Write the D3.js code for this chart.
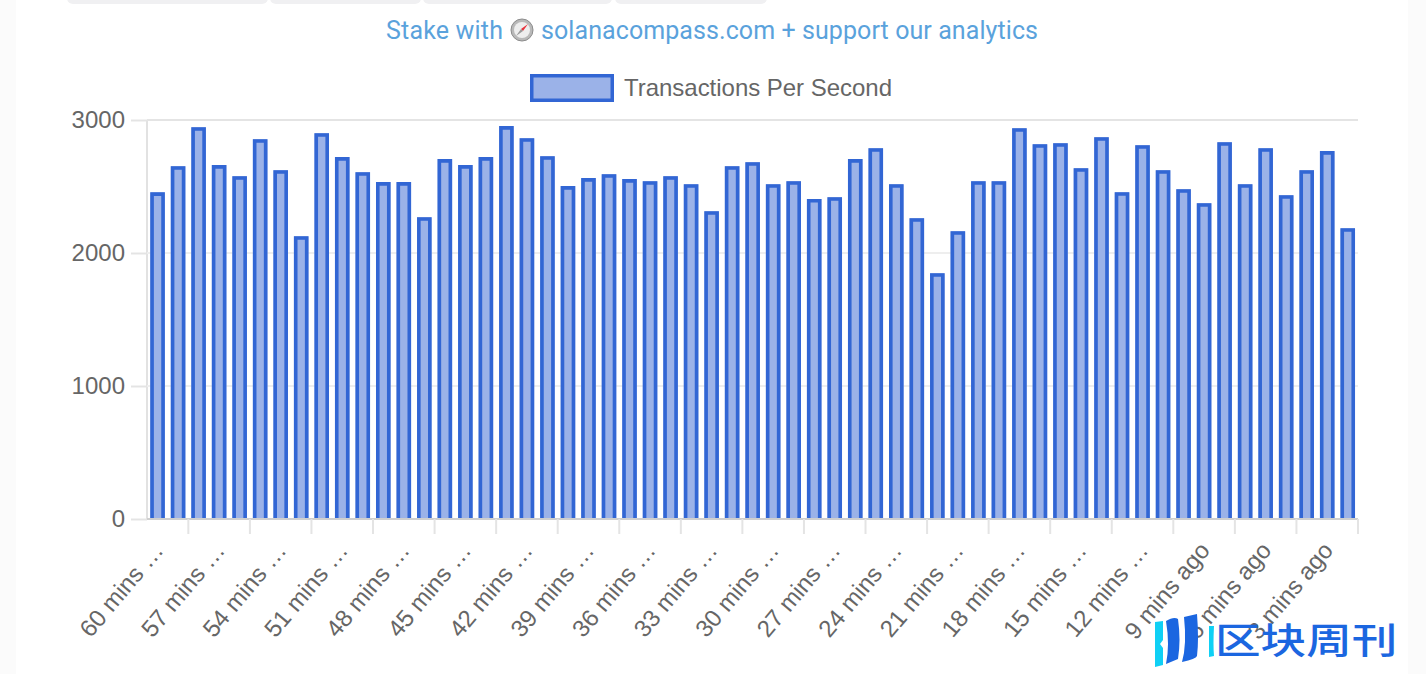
<!DOCTYPE html>
<html>
<head>
<meta charset="utf-8">
<script src="https://cdn.jsdelivr.net/npm/d3@7"></script>
<style>
html, body { margin: 0; padding: 0; background: #fbfbfb; overflow: hidden; }
svg { display: block; }
text { font-family: "Liberation Sans", Arial, sans-serif; }
</style>
</head>
<body>
<script>
var minsAgo = [60, 59, 58, 57, 56, 55, 54, 53, 52, 51, 50, 49, 48, 47, 46, 45, 44, 43, 42, 41,
    40, 39, 38, 37, 36, 35, 34, 33, 32, 31, 30, 29, 28, 27, 26, 25, 24, 23, 22, 21,
    20, 19, 18, 17, 16, 15, 14, 13, 12, 11, 10, 9, 8, 7, 6, 5, 4, 3, 2];

var tps = [2456, 2653, 2946, 2661, 2578, 2856, 2623, 2126, 2901, 2721, 2608, 2533, 2533, 2269, 2706, 2661, 2721, 2954, 2863, 2728,
    2503, 2563, 2593, 2556, 2540, 2578, 2517, 2314, 2653, 2683, 2517, 2540, 2406, 2420, 2706, 2788, 2517, 2262, 1848, 2164,
    2540, 2540, 2938, 2818, 2826, 2638, 2871, 2457, 2811, 2623, 2480, 2375, 2833, 2517, 2788, 2435, 2623, 2766, 2186];

var yTicks = [0, 1000, 2000, 3000];
var labelMins = [60, 57, 54, 51, 48, 45, 42, 39, 36, 33, 30, 27, 24, 21, 18, 15, 12, 9, 6, 3];
var tickLabels = ["60 mins …", "57 mins …", "54 mins …", "51 mins …", "48 mins …", "45 mins …", "42 mins …",
    "39 mins …", "36 mins …", "33 mins …", "30 mins …", "27 mins …", "24 mins …", "21 mins …", "18 mins …",
    "15 mins …", "12 mins …", "9 mins ago", "6 mins ago", "3 mins ago"];
var seriesName = "Transactions Per Second";

var blue = "#3266d4", lightBlue = "#9bb2e8", grey = "#666";

var svg = d3.select("body").append("svg").attr("width", 1426).attr("height", 674);

// page panel and the cut off tabs at the top
svg.append("rect").attr("x", 16).attr("y", 0).attr("width", 1392).attr("height", 674).attr("fill", "#fff");
[[67, 201], [270, 151], [423, 189], [615, 152]].forEach(function (t) {
    svg.append("rect").attr("x", t[0]).attr("y", -10).attr("width", t[1]).attr("height", 14)
        .attr("rx", 6).attr("fill", "#f0f0f2");
});

// stake link
var link = svg.append("g");
link.append("text").attr("x", 386).attr("y", 39).attr("font-size", 25).attr("fill", "#5aa2dc")
    .style("font-family", "Roboto, 'Liberation Sans', sans-serif").attr("textLength", 117).text("Stake with");
link.append("text").attr("x", 541).attr("y", 39).attr("font-size", 25).attr("fill", "#5aa2dc")
    .style("font-family", "Roboto, 'Liberation Sans', sans-serif").attr("textLength", 497).text("solanacompass.com + support our analytics");

var compass = link.append("g").attr("transform", "translate(522,30)");
compass.append("circle").attr("r", 11).attr("fill", "#b9b9b9").attr("stroke", "#8c8c8c");
compass.append("circle").attr("r", 8).attr("fill", "#eeeeee");
compass.append("path").attr("d", "M6,-6L-1,-1L1,1Z").attr("fill", "#e8323c");
compass.append("path").attr("d", "M-6,6L-1,-1L1,1Z").attr("fill", "#9a9a9a");

// legend
svg.append("rect").attr("x", 531.75).attr("y", 75.75).attr("width", 80.5).attr("height", 24.5)
    .attr("fill", lightBlue).attr("stroke", blue).attr("stroke-width", 3.5);
svg.append("text").attr("x", 624).attr("y", 96).attr("font-size", 24).attr("fill", grey)
    .attr("textLength", 268).text(seriesName);

// scales
var x = d3.scaleBand().domain(minsAgo).range([147.3, 1358]);
var y = d3.scaleLinear().domain([0, 3000]).range([519, 120]);
var barWidth = x.bandwidth() * 0.71;
var border = 3.6;

// y axis with grid lines
var yAxis = svg.append("g").attr("transform", "translate(147,0)")
    .call(d3.axisLeft(y).tickValues(yTicks).tickFormat(d3.format("d")).tickSize(16).tickPadding(6));
yAxis.select(".domain").attr("stroke", "#e2e2e2").attr("stroke-width", 2).attr("d", "M0,120V519");
yAxis.selectAll("line").attr("stroke", "#e4e4e4").attr("stroke-width", 2);
yAxis.selectAll("text").attr("font-size", 24).attr("fill", grey).style("font-family", "'Liberation Sans', Arial, sans-serif");

svg.append("g").selectAll("line").data(yTicks).join("line")
    .attr("x1", 147).attr("x2", 1358)
    .attr("y1", function (d) { return y(d); }).attr("y2", function (d) { return y(d); })
    .attr("stroke", function (d) { return d === 3000 ? "#e4e4e4" : d === 0 ? "#cfcfcf" : "#eeeeee"; })
    .attr("stroke-width", 2);

// bars, no border on the bottom side like chart.js
var bars = svg.append("g").selectAll("g").data(tps).join("g");
bars.append("rect")
    .attr("x", function (d, i) { return x(minsAgo[i]) + (x.bandwidth() - barWidth) / 2; })
    .attr("y", function (d) { return y(d); })
    .attr("width", barWidth)
    .attr("height", function (d) { return y(0) - y(d) - 1; })
    .attr("fill", lightBlue);
bars.append("path")
    .attr("d", function (d, i) {
        var l = x(minsAgo[i]) + (x.bandwidth() - barWidth) / 2 + border / 2;
        var r = l + barWidth - border;
        var t = y(d) + border / 2;
        return "M" + l + "," + (y(0) - 1) + "V" + t + "H" + r + "V" + (y(0) - 1);
    })
    .attr("fill", "none").attr("stroke", blue).attr("stroke-width", border);

// x ticks sit on the band edge two bars after each label
svg.append("g").selectAll("line").data(labelMins).join("line")
    .attr("x1", function (d) { return x(d - 1) + x.step(); })
    .attr("x2", function (d) { return x(d - 1) + x.step(); })
    .attr("y1", 519).attr("y2", 534)
    .attr("stroke", "#e4e4e4").attr("stroke-width", 2);

// x labels
svg.append("g").selectAll("text").data(labelMins).join("text")
    .attr("transform", function (d) {
        return "translate(" + (x(d) + x.bandwidth() / 2 + 7) + ",551) rotate(-50)";
    })
    .attr("text-anchor", "end")
    .attr("font-size", 24)
    .attr("fill", grey)
    .text(function (d, i) { return tickLabels[i]; });

// watermark
var mark = svg.append("g");
mark.append("path").attr("d", "M1155,622L1163,621V640L1160,644L1163,648V665L1155,667Z").attr("fill", "#0fd0f5");
mark.append("path").attr("d", "M1166,621Q1174,616 1178,619Q1181,640 1178,659L1166,664Q1170,645 1166,621Z").attr("fill", "#1b66e0");
mark.append("path").attr("d", "M1184,617L1197,614Q1199,640 1197,656Q1196,659 1182,662Q1187,645 1184,617Z").attr("fill", "#1b66e0");
mark.append("path").attr("d", "M1209,626L1214,626Q1213,645 1214,656L1209,657Z").attr("fill", "#0fd0f5");
mark.append("text").attr("transform", "translate(1215,654) scale(1.2,0.95)").attr("font-size", 38).attr("font-weight", 500)
    .style("font-family", "'Noto Sans CJK SC'").attr("fill", "#1b66e0").text("区块周刊");
</script>
</body>
</html>
